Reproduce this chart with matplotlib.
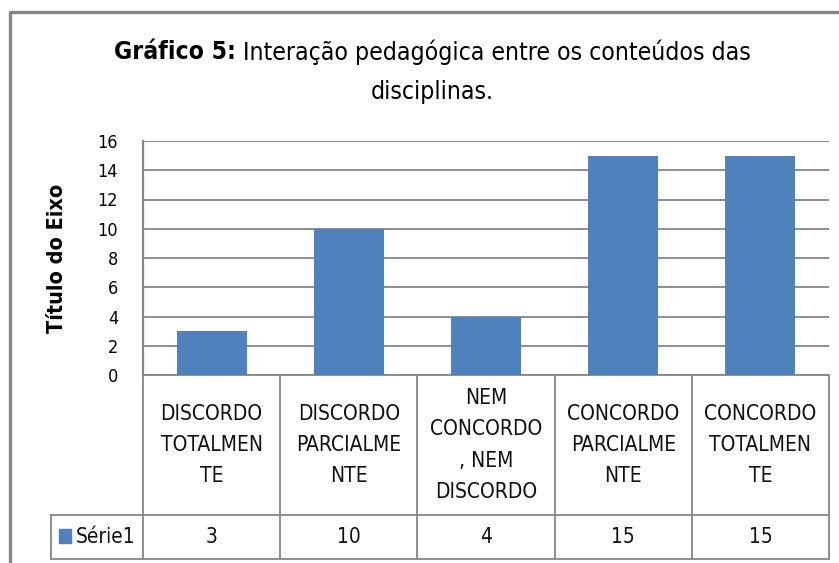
import matplotlib
matplotlib.use("Agg")
import matplotlib.pyplot as plt
import matplotlib.transforms as mtransforms
from matplotlib.lines import Line2D
from matplotlib.patches import Rectangle

plt.rcParams['font.family'] = ['DejaVu Sans']
plt.rcParams['font.stretch'] = 'condensed'

categorias = ["DISCORDO\nTOTALMEN\nTE",
              "DISCORDO\nPARCIALME\nNTE",
              "NEM\nCONCORDO\n, NEM\nDISCORDO",
              "CONCORDO\nPARCIALME\nNTE",
              "CONCORDO\nTOTALMEN\nTE"]
valores = [3, 10, 4, 15, 15]
serie = "Série1"
yticks = [0, 2, 4, 6, 8, 10, 12, 14, 16]

W, H = 839, 563
azul = '#4F81BD'
cinza = '#868686'

fig = plt.figure(figsize=(W / 100, H / 100), dpi=100)


def fx(x):
    return x / W


def fy(y):
    return 1 - y / H


# moldura do gráfico (cortada à direita e embaixo)
fig.add_artist(Line2D([fx(10), fx(10), fx(W + 5)], [fy(H + 5), fy(12), fy(12)],
                      transform=fig.transFigure, color=cinza, lw=2.4))

ax = fig.add_axes([fx(143), fy(375), fx(829 - 143), (375 - 141) / H])
x = list(range(len(categorias)))
ax.bar(x, valores, width=0.51, color=azul, zorder=3)
ax.set_xlim(-0.5, len(categorias) - 0.5)
ax.set_ylim(0, 16)
ax.set_yticks(yticks)
ax.tick_params(axis='y', length=0, pad=18, labelsize=13)
ax.tick_params(axis='x', length=0, labelbottom=False)
ax.yaxis.grid(True, color=cinza, lw=1.3, zorder=0)
for s in ['top', 'right']:
    ax.spines[s].set_visible(False)
ax.spines['left'].set_color(cinza)
ax.spines['left'].set_linewidth(1.6)
ax.spines['bottom'].set_color(cinza)
ax.spines['bottom'].set_linewidth(1.3)
ax.set_ylabel("Título do Eixo", fontsize=15.5, fontweight='bold', labelpad=22)

# tabela de dados
tr = mtransforms.blended_transform_factory(ax.transData, ax.transAxes)
y_linha = (375 - 515) / 234
y_fundo = (375 - 559) / 234
for i in range(len(categorias) + 1):
    ax.plot([i - 0.5, i - 0.5], [0, y_fundo], transform=tr, color=cinza,
            lw=1.3, clip_on=False)
x_leg = -0.5 - (143 - 51) / ((829 - 143) / len(categorias))
for yy in [y_linha, y_fundo]:
    ax.plot([x_leg, len(categorias) - 0.5], [yy, yy], transform=tr,
            color=cinza, lw=1.3, clip_on=False)
ax.plot([x_leg, x_leg], [y_linha, y_fundo], transform=tr, color=cinza,
        lw=1.3, clip_on=False)

for i, (c, v) in enumerate(zip(categorias, valores)):
    ax.text(i, (0 + y_linha) / 2, c, transform=tr, ha='center', va='center',
            fontsize=15, linespacing=1.7, color='#111111')
    ax.text(i, (y_linha + y_fundo) / 2, str(v), transform=tr, ha='center',
            va='center', fontsize=15, color='#111111')

fig.add_artist(Rectangle((fx(59), fy(543)), fx(12), 14 / H, transform=fig.transFigure,
                         color=azul))
fig.text(fx(76), fy(537), serie, ha='left', va='center', fontsize=15, color='#111111')

# título com parte em negrito
t1 = fig.text(0, fy(52), "Gráfico 5:", fontsize=17.7, fontweight='bold', va='center')
t2 = fig.text(0, fy(52), " Interação pedagógica entre os conteúdos das", fontsize=17.7,
              va='center')
fig.text(fx(432), fy(92), "disciplinas.", fontsize=17.7, ha='center', va='center')
r = fig.canvas.get_renderer()
w1 = t1.get_window_extent(r).width
w2 = t2.get_window_extent(r).width
x0 = 432 - (w1 + w2) / 2
t1.set_x(fx(x0))
t2.set_x(fx(x0 + w1))

fig.savefig("out.png", dpi=100)
